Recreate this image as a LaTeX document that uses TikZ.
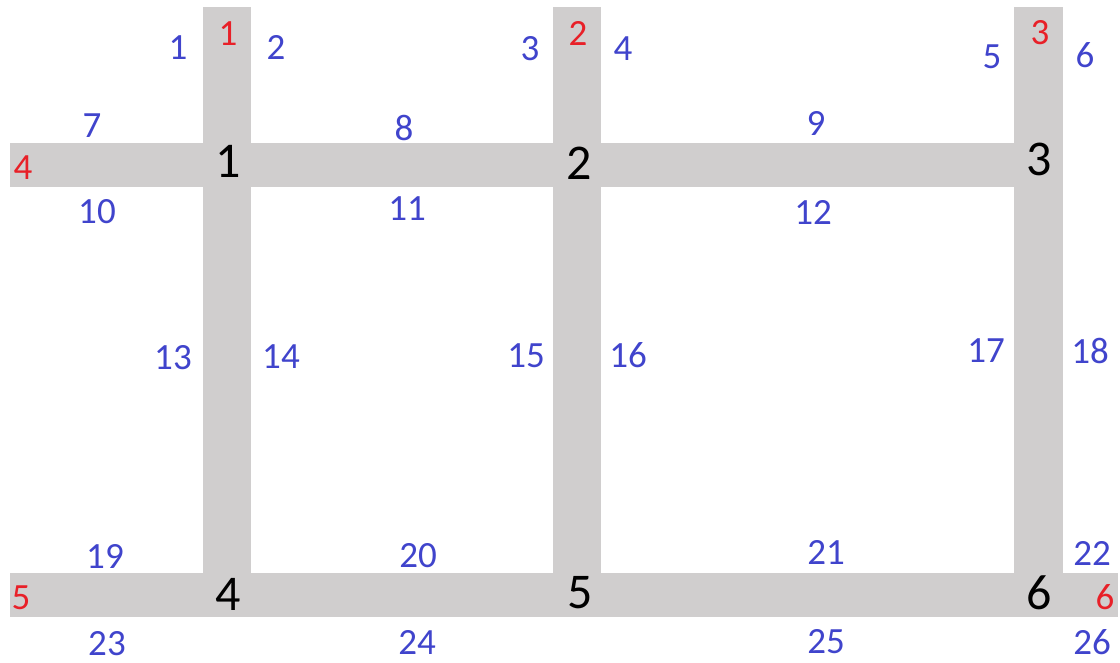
\documentclass[tikz,border=0pt]{standalone}
\usepackage{fontspec}
\setmainfont{Carlito}
\definecolor{roadgray}{RGB}{208,206,206}
\definecolor{segblue}{RGB}{64,68,204}
\definecolor{entryred}{RGB}{232,32,40}
\begin{document}
\begin{tikzpicture}[x=1pt,y=-1pt,
  band/.style={fill=roadgray,draw=none},
  seglbl/.style={text=segblue,font=\fontsize{37}{37}\selectfont,inner sep=0pt},
  entrylbl/.style={text=entryred,font=\fontsize{37}{37}\selectfont,inner sep=0pt},
  crosslbl/.style={text=black,font=\fontsize{50}{50}\selectfont,inner sep=0pt}]
\useasboundingbox (0,0) rectangle (1120,662);
\fill[white] (0,0) rectangle (1120,662);
% roads
\path[band] (203,7) rectangle (251,617);
\path[band] (553,7) rectangle (601,617);
\path[band] (1014,7) rectangle (1063,617);
\path[band] (10,143) rectangle (1014,187);
\path[band] (10,573) rectangle (1118,617);
% crossing labels
\node[crosslbl] (c1) at (228,161) {1};
\node[crosslbl] (c2) at (579,163) {2};
\node[crosslbl] (c3) at (1039,159) {3};
\node[crosslbl] (c4) at (228,594) {4};
\node[crosslbl] (c5) at (580,593) {5};
\node[crosslbl] (c6) at (1039,593) {6};
% entry labels
\node[entrylbl] (e1) at (228,34) {1};
\node[entrylbl] (e2) at (578,33) {2};
\node[entrylbl] (e3) at (1040,33) {3};
\node[entrylbl] (e4) at (23,168) {4};
\node[entrylbl] (e5) at (21,598) {5};
\node[entrylbl] (e6) at (1105,597) {6};
% segment labels
\node[seglbl] (s1) at (178,48) {1};
\node[seglbl] (s2) at (276,47) {2};
\node[seglbl] (s3) at (530,49) {3};
\node[seglbl] (s4) at (623,49) {4};
\node[seglbl] (s5) at (992,57) {5};
\node[seglbl] (s6) at (1085,55) {6};
\node[seglbl] (s7) at (92,126) {7};
\node[seglbl] (s8) at (404,128) {8};
\node[seglbl] (s9) at (816,123) {9};
\node[seglbl] (s10) at (97,212) {10};
\node[seglbl] (s11) at (407,209) {11};
\node[seglbl] (s12) at (813,212) {12};
\node[seglbl] (s13) at (173,358) {13};
\node[seglbl] (s14) at (281,357) {14};
\node[seglbl] (s15) at (526,356) {15};
\node[seglbl] (s16) at (628,355) {16};
\node[seglbl] (s17) at (986,351) {17};
\node[seglbl] (s18) at (1090,351) {18};
\node[seglbl] (s19) at (105,556) {19};
\node[seglbl] (s20) at (418,556) {20};
\node[seglbl] (s21) at (826,552) {21};
\node[seglbl] (s22) at (1092,553) {22};
\node[seglbl] (s23) at (107,644) {23};
\node[seglbl] (s24) at (417,642) {24};
\node[seglbl] (s25) at (826,642) {25};
\node[seglbl] (s26) at (1092,642) {26};
\end{tikzpicture}
\end{document}
